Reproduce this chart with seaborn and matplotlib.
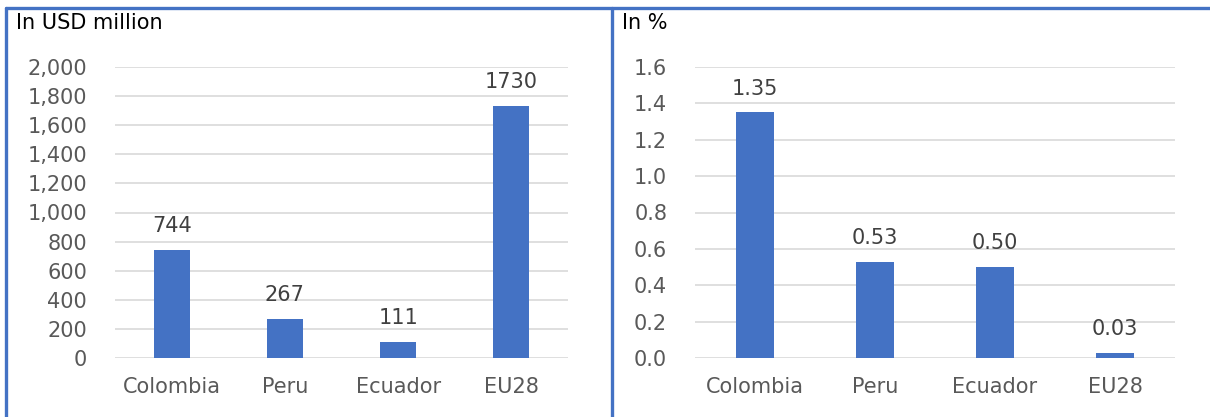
import matplotlib
matplotlib.use("Agg")
import matplotlib.pyplot as plt
import seaborn as sns
import pandas as pd
from matplotlib.lines import Line2D
from matplotlib.ticker import FuncFormatter, MultipleLocator

# Data
countries = ["Colombia", "Peru", "Ecuador", "EU28"]
usd_million = [744, 267, 111, 1730]
share_pct = [1.35, 0.53, 0.50, 0.03]
usd_labels = ["744", "267", "111", "1730"]
pct_labels = ["1.35", "0.53", "0.50", "0.03"]

sns.set_theme(style="white")
plt.rcParams["font.family"] = ["DejaVu Sans"]

W, H, DPI = 1210, 417, 100
fig = plt.figure(figsize=(W / DPI, H / DPI), dpi=DPI)

BAR = "#4472C4"
GRID = "#D9D9D9"
TICK = "#595959"
VAL = "#404040"
FS = 15


def px_axes(x0, x1, y_top, y_bot):
    return fig.add_axes([x0 / W, 1 - y_bot / H, (x1 - x0) / W, (y_bot - y_top) / H])


def draw(ax, values, labels, ymax, step, fmt):
    df = pd.DataFrame({"country": countries, "value": values})
    sns.barplot(data=df, x="country", y="value", color=BAR, width=0.32,
                saturation=1, ax=ax, zorder=3, linewidth=0)
    ax.set_ylim(0, ymax)
    ax.set_xlim(-0.5, len(countries) - 0.5)
    ax.yaxis.set_major_locator(MultipleLocator(step))
    ax.yaxis.set_major_formatter(FuncFormatter(fmt))
    ax.grid(axis="y", color=GRID, linewidth=1.2, zorder=0)
    ax.set_axisbelow(True)
    for s in ax.spines.values():
        s.set_visible(False)
    ax.tick_params(axis="both", length=0, labelsize=FS, colors=TICK)
    ax.tick_params(axis="y", pad=20)
    ax.tick_params(axis="x", pad=14)
    ax.set_xlabel("")
    ax.set_ylabel("")
    for i, (v, t) in enumerate(zip(values, labels)):
        ax.annotate(t, (i, v), xytext=(0, 10), textcoords="offset points",
                    ha="center", va="bottom", fontsize=FS, color=VAL)


ax1 = px_axes(115, 568, 67, 358)
draw(ax1, usd_million, usd_labels, 2000, 200, lambda v, p: f"{v:,.0f}")

ax2 = px_axes(695, 1175, 67, 358)
draw(ax2, share_pct, pct_labels, 1.6, 0.2, lambda v, p: f"{v:.1f}")

fig.text(16 / W, 1 - 23 / H, "In USD million", fontsize=FS, color="black",
         ha="left", va="center")
fig.text(622 / W, 1 - 23 / H, "In %", fontsize=FS, color="black",
         ha="left", va="center")

# Panel frames
BORDER = "#4472C4"
for xs, ys in [([6 / W, 6 / W], [0, 1 - 7.5 / H]),
               ([612 / W, 612 / W], [0, 1 - 7.5 / H]),
               ([6 / W, 1], [1 - 7.5 / H, 1 - 7.5 / H])]:
    fig.add_artist(Line2D(xs, ys, color=BORDER, linewidth=2.4,
                          transform=fig.transFigure))

fig.savefig("out.png", dpi=DPI)
